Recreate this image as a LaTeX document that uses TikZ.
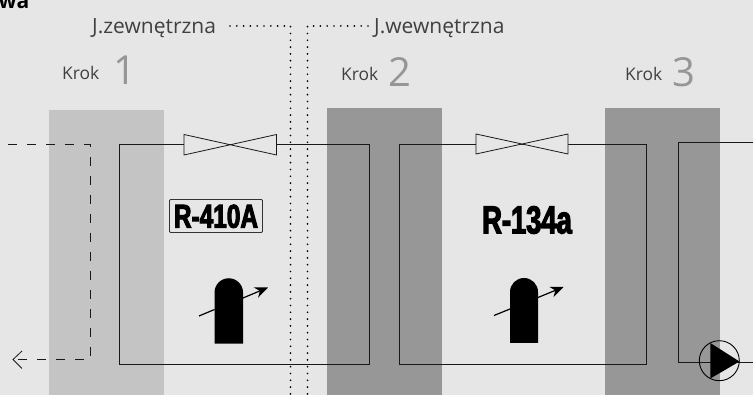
\documentclass[tikz,border=0pt]{standalone}
\usepackage{fontspec}
\setmainfont{Open Sans}
\newfontfamily\impactA[FakeStretch=0.74,FakeBold=3]{Liberation Sans Bold}
\newfontfamily\impactB[FakeStretch=0.70,FakeBold=3]{Liberation Sans Bold}
\definecolor{bgc}{HTML}{E6E6E6}
\definecolor{lightb}{HTML}{C4C4C4}
\definecolor{darkb}{HTML}{979797}
\definecolor{txtc}{HTML}{404040}
\definecolor{numc}{HTML}{969696}
\usetikzlibrary{arrows.meta}
\tikzset{
  x=1pt,y=-1pt,
  band/.style={fill=#1,draw=none},
  pipe/.style={draw=black!90,line width=0.9pt,line join=miter},
  dashpipe/.style={draw=black!90,line width=0.9pt,dash pattern=on 9pt off 10pt},
  dotline/.style={draw=black,line width=1.9pt,line cap=round,dash pattern=on 0pt off 6.8pt},
  labeltxt/.style={inner sep=0pt,text=txtc,anchor=base west,font=\fontsize{21}{24}\selectfont},
  steptxt/.style={inner sep=0pt,text=txtc,anchor=base west,font=\fontsize{17.4}{20}\selectfont},
  numtxt/.style={inner sep=0pt,text=numc,anchor=base west,font=\fontsize{40}{44}\selectfont},
  gasAtxt/.style={inner sep=0pt,text=black,font=\impactA\fontsize{33}{36}\selectfont},
  gasBtxt/.style={inner sep=0pt,text=black,font=\impactB\fontsize{39}{42}\selectfont},
  valve/.style={draw=black!90,line width=0.8pt,fill=bgc,line join=miter},
  comp/.style={fill=black,draw=none},
  adjline/.style={draw=black,line width=1.2pt},
  adjarrow/.style={adjline,-{Stealth[length=13pt,width=11pt]}},
}
\begin{document}
\begin{tikzpicture}
\useasboundingbox (0,0) rectangle (753,395);
\fill[bgc] (0,0) rectangle (753,395);
% bands
\fill[band=lightb] (49,110) rectangle (164,395);
\fill[band=darkb] (327,108) rectangle (442,395);
\fill[band=darkb] (605,108) rectangle (720,395);
% coordinates
\coordinate (zl) at (230,26);
\coordinate (zc) at (290.5,26);
\coordinate (zb) at (290.5,395);
\coordinate (wl) at (368,26);
\coordinate (wc) at (307.5,26);
\coordinate (wb) at (307.5,395);
% loops
\draw[pipe] (119,144.5) rectangle (369,364.5);
\draw[pipe] (399,144.5) rectangle (646.5,364.5);
\draw[pipe] (753,142.3) -- (678.5,142.3) -- (678.5,362.3) -- (753,362.3);
% dotted lines
\draw[dotline] (zl) -- (zc) -- (zb);
\draw[dotline] (wl) -- (wc) -- (wb);
% valves
\draw[valve] (184,134.5) -- (276.5,155) -- (276.5,134.5) -- (184,155) -- cycle;
\draw[valve] (476,134) -- (568,154) -- (568,134) -- (476,154) -- cycle;
% dashed outside loop
\coordinate (d1) at (8,144.5);
\coordinate (d2) at (90.5,144.5);
\coordinate (d3) at (90.5,359.5);
\coordinate (d4) at (13,359.5);
\draw[dashpipe] (d1) -- (d2) -- (d3) -- (d4);
\draw[draw=black!90,line width=0.8pt,line join=miter] (22,351) -- (d4) -- (22,368.5);
% gas labels
\node[draw=black!80,line width=0.9pt,rounded corners=1pt,minimum width=93pt,minimum height=33pt,inner sep=0pt,fill=bgc] (gasA) at (216,216) {};
\node[gasAtxt] (gasAt) at (216,216.3) {R-410A};
\node[gasBtxt] (gasB) at (527,220) {R-134a};
% compressors
\fill[comp] (214.5,343.7) -- (214.5,292.5) arc[start angle=180,end angle=0,radius=14.25pt] -- (243,343.7) -- cycle;
\coordinate (a1s) at (199,316);
\coordinate (a1e) at (268,287.5);
\draw[adjline] (a1s) -- (214.5,309.5);
\draw[adjarrow] (243,298) -- (a1e);
\fill[comp] (510,343) -- (510,292) arc[start angle=180,end angle=0,radius=14pt] -- (538,343) -- cycle;
\coordinate (a2s) at (494,315.5);
\coordinate (a2e) at (563.5,287);
\draw[adjline] (a2s) -- (510,309);
\draw[adjarrow] (538,297.5) -- (a2e);
% pump
\node[circle,draw=black,line width=0.9pt,minimum size=40pt,inner sep=0pt] (pump) at (719.3,360.7) {};
\fill[black] (710.3,343) -- (739.5,361.5) -- (710.3,378.5) -- cycle;
% texts
\node[inner sep=0pt,anchor=base west,font=\bfseries\fontsize{21}{24}\selectfont,text=black] (hdr) at (-1.5,9) {wa};
\node[labeltxt] (jz) at (92,33.5) {J.zewnętrzna};
\node[labeltxt] (jw) at (374,33.5) {J.wewnętrzna};
\node[steptxt] (k1) at (62,80) {Krok};
\node[numtxt] (n1) at (113,85) {1};
\node[steptxt] (k2) at (341,81) {Krok};
\node[numtxt] (n2) at (388,87) {2};
\node[steptxt] (k3) at (625,81) {Krok};
\node[numtxt] (n3) at (672,87) {3};
\end{tikzpicture}
\end{document}
